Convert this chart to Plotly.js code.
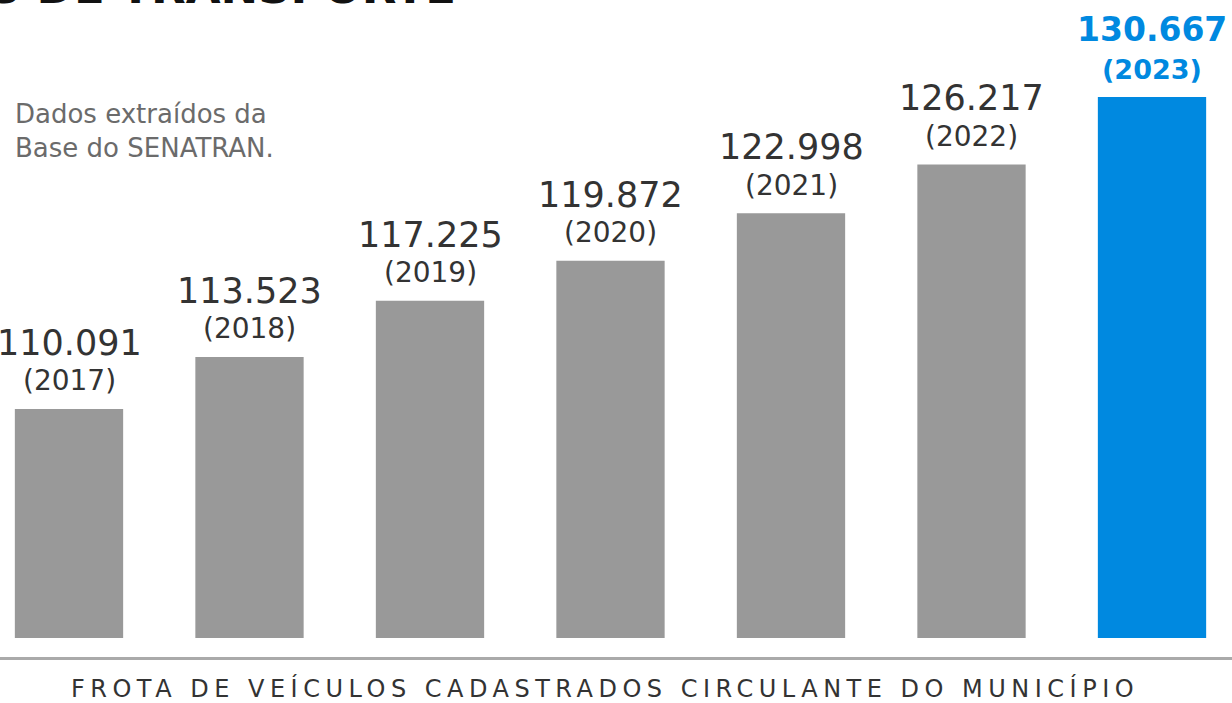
<!DOCTYPE html>
<html>
<head>
<meta charset="utf-8">
<script src="https://cdn.plot.ly/plotly-3.0.1.min.js"></script>
<style>html,body{margin:0;padding:0;background:#fff;}#chart{width:1232px;height:703px;}</style>
</head>
<body>
<div id="chart"></div>
<script>
const years = ['2017','2018','2019','2020','2021','2022','2023'];
const values = [110091, 113523, 117225, 119872, 122998, 126217, 130667];
const valueLabels = ['110.091','113.523','117.225','119.872','122.998','126.217','130.667'];
const highlightYear = '2023';

const grey = '#999999', blue = '#0089e0';
const colors = years.map(y => y === highlightYear ? blue : grey);

const annotations = [];
years.forEach((yr, i) => {
  const hl = yr === highlightYear;
  annotations.push({
    x: i, y: values[i], xref: 'x', yref: 'y', text: hl ? '<b>' + valueLabels[i] + '</b>' : valueLabels[i],
    showarrow: false, yanchor: 'middle', xanchor: 'center', yshift: hl ? 68 : 66,
    font: {family: 'DejaVu Sans', size: hl ? 33 : 35, color: hl ? blue : '#333333'}
  });
  annotations.push({
    x: i, y: values[i], xref: 'x', yref: 'y', text: hl ? '<b>(' + yr + ')</b>' : '(' + yr + ')',
    showarrow: false, yanchor: 'middle', xanchor: 'center', yshift: 28,
    font: {family: 'DejaVu Sans', size: hl ? 27 : 28, color: hl ? blue : '#333333'}
  });
});
annotations.push({
  x: 13/1232, y: 1 - 97/638, xref: 'paper', yref: 'paper', xanchor: 'left', yanchor: 'top', align: 'left',
  text: 'Dados extraídos da<br>Base do SENATRAN.', showarrow: false,
  font: {family: 'DejaVu Sans', size: 26, color: '#6b6b6b'}
});
annotations.push({
  x: 458/1232, y: 1 - 16/638, xref: 'paper', yref: 'paper', xanchor: 'right', yanchor: 'bottom',
  text: '<b>MEIOS DE TRANSPORTE</b>', showarrow: false,
  font: {family: 'DejaVu Sans', size: 45, color: '#111111'}
});
annotations.push({
  x: 605/1232, y: -(688-638)/638, xref: 'paper', yref: 'paper', xanchor: 'center', yanchor: 'middle',
  text: '<span style="letter-spacing:5.5px">FROTA DE VEÍCULOS CADASTRADOS CIRCULANTE DO MUNICÍPIO</span>', showarrow: false,
  font: {family: 'DejaVu Sans', size: 24, color: '#333333'}
});

const data = [{
  type: 'bar', x: years, y: values, width: 0.6,
  marker: {color: colors, line: {width: 0}},
  hoverinfo: 'none', textposition: 'none'
}];

const pxPerUnit = 180.5;
const layout = {
  width: 1232, height: 703,
  margin: {l: 0, r: 0, t: 0, b: 65, pad: 0},
  paper_bgcolor: '#ffffff', plot_bgcolor: '#ffffff',
  showlegend: false,
  xaxis: {type: 'category', range: [-69/pxPerUnit, (1232-69)/pxPerUnit], visible: false, fixedrange: true},
  yaxis: {range: [94988, 137064], visible: false, fixedrange: true},
  annotations: annotations,
  shapes: [{type: 'line', xref: 'paper', yref: 'paper', x0: 0, x1: 1, y0: -(658.5-638)/638, y1: -(658.5-638)/638,
    line: {color: '#aaaaaa', width: 3}}]
};
Plotly.newPlot('chart', data, layout, {displayModeBar: false, staticPlot: true});
</script>
</body>
</html>
